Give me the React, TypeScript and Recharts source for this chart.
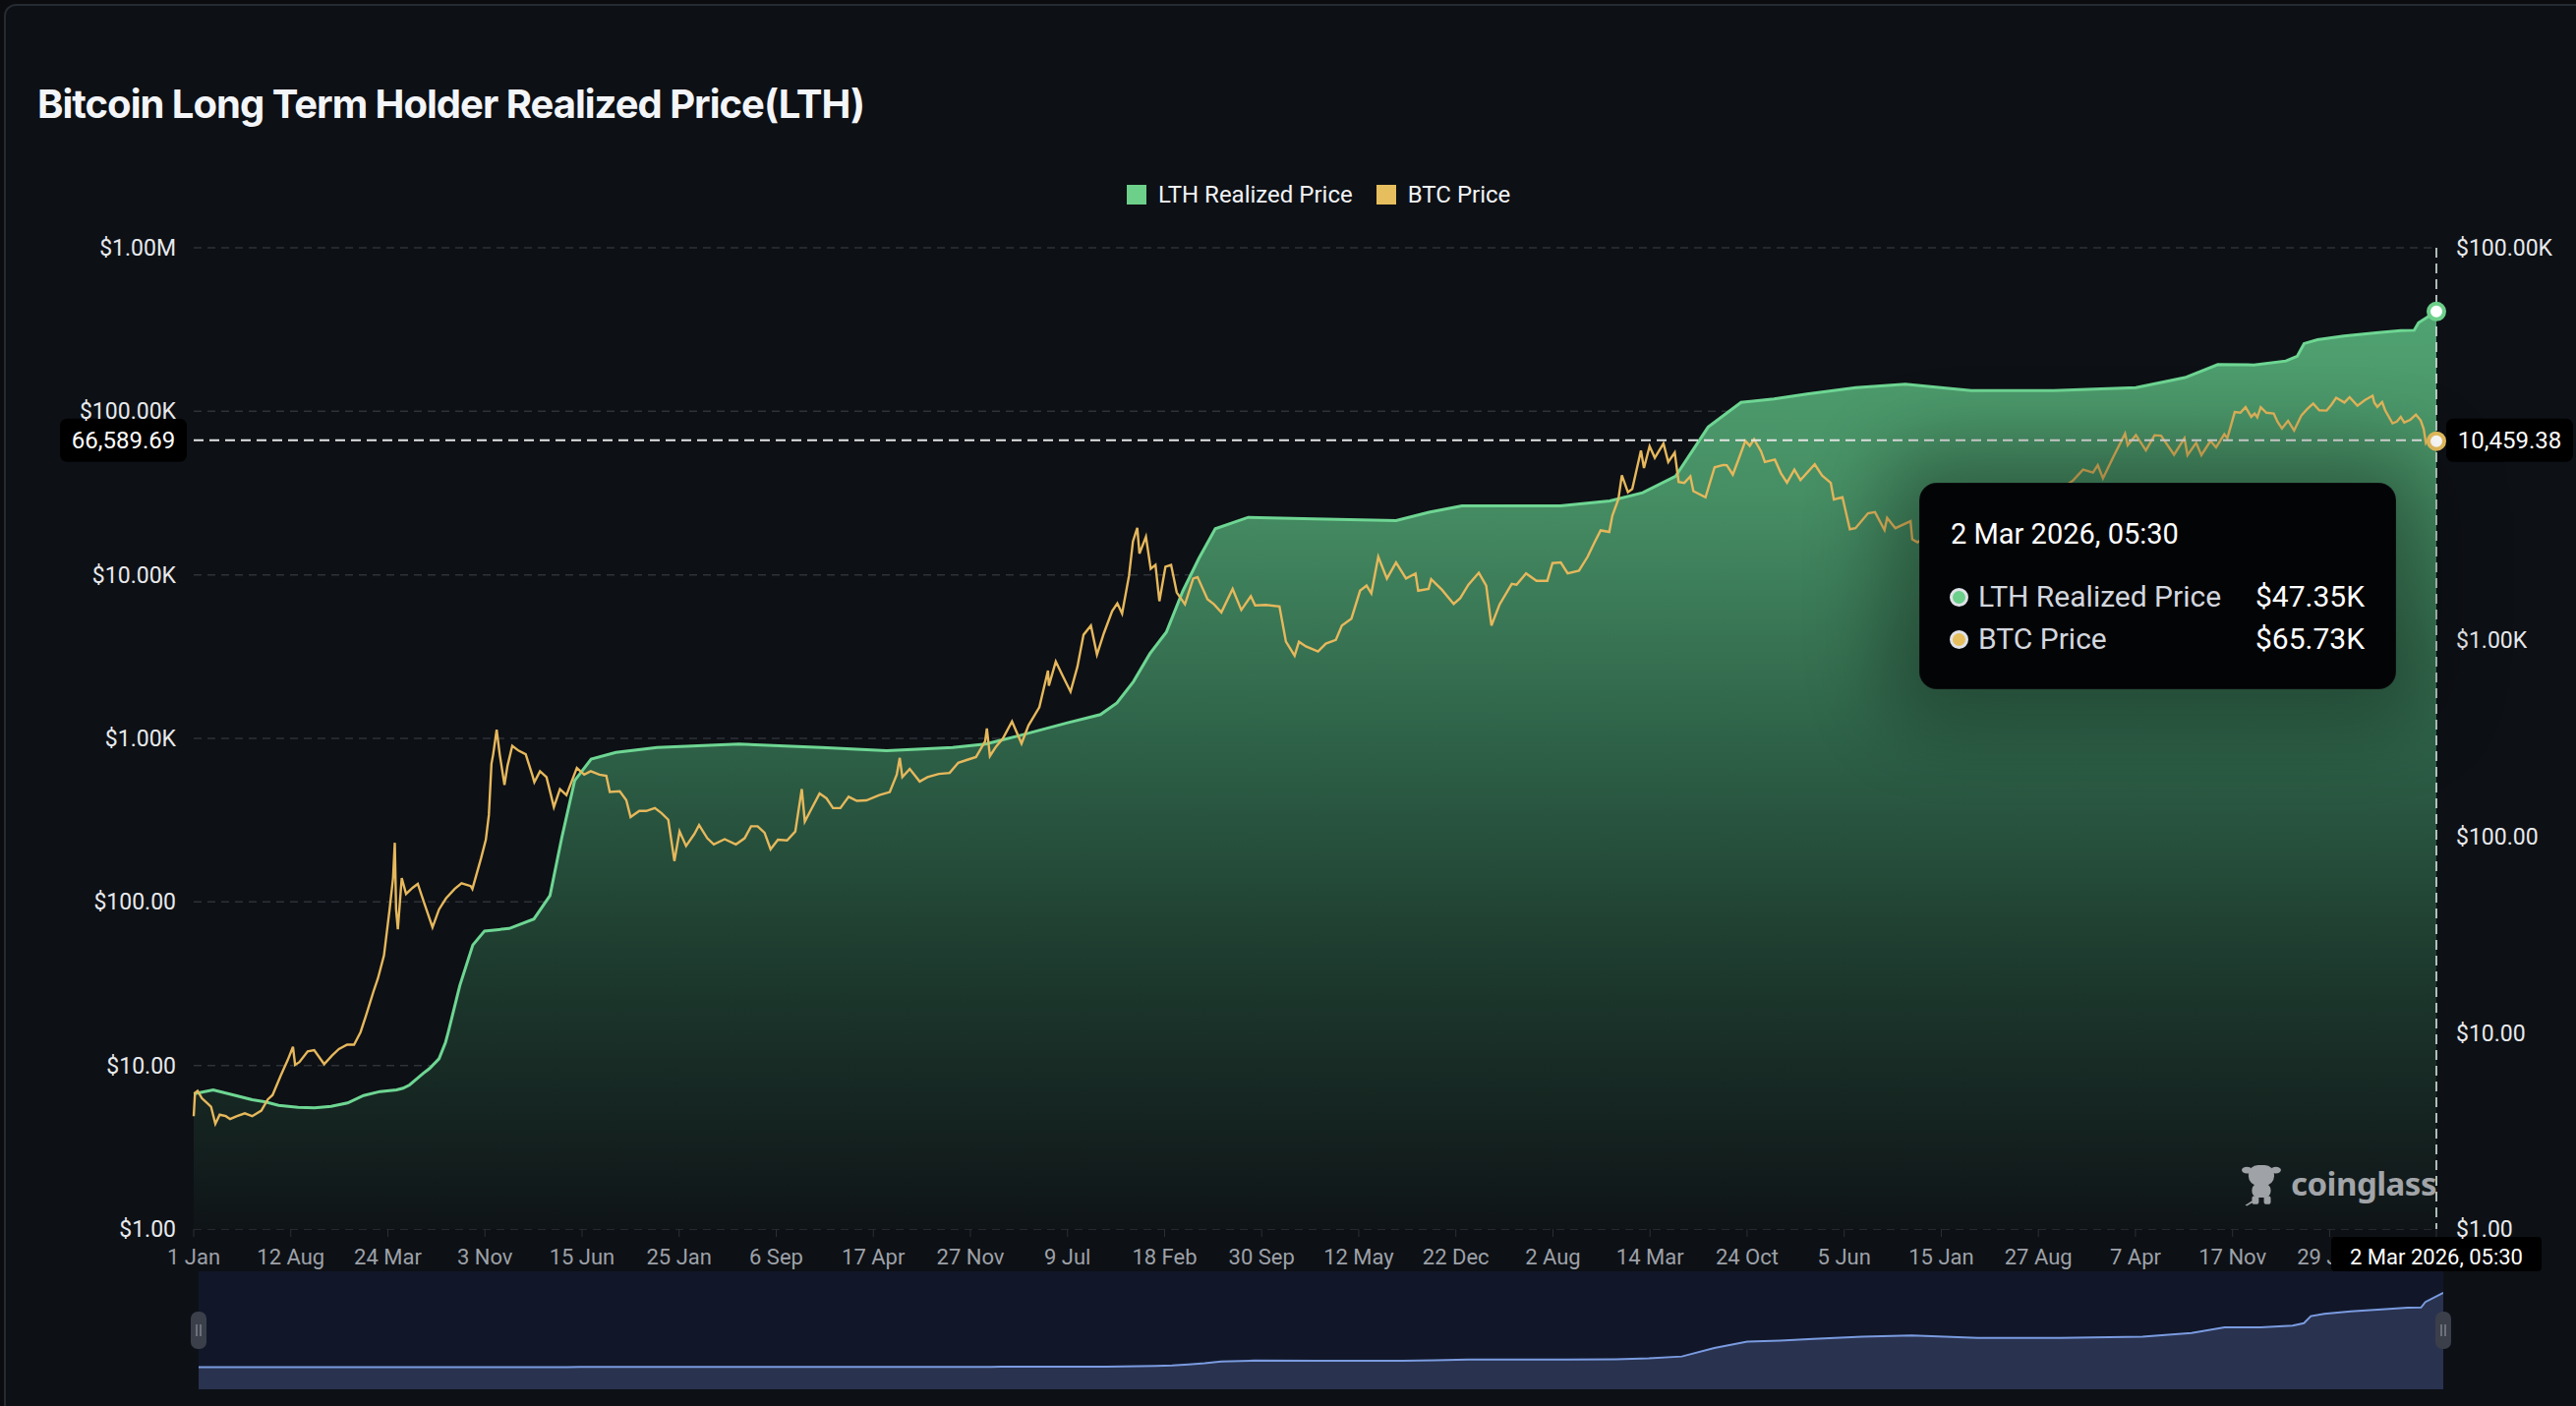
import React from 'react';
import {
  ComposedChart, AreaChart, Area, Line, XAxis, YAxis, CartesianGrid, Tooltip, Legend, ReferenceLine, Brush,
} from 'recharts';

// ---------------- data ----------------
const title = 'Bitcoin Long Term Holder Realized Price(LTH)';
const seriesNames = { lth: 'LTH Realized Price', btc: 'BTC Price' };

const lthSeries: [string, number][] = [
  ['2012-01-01', 4.89], ['2012-02-15', 5.12], ['2012-03-31', 4.83], ['2012-05-15', 4.56], ['2012-06-15', 4.44],
  ['2012-07-15', 4.27], ['2012-08-29', 4.17], ['2012-10-06', 4.14], ['2012-11-13', 4.22], ['2012-12-21', 4.39],
  ['2013-01-27', 4.79], ['2013-03-06', 5.02], ['2013-04-13', 5.12], ['2013-04-28', 5.22], ['2013-05-13', 5.42],
  ['2013-06-13', 6.2], ['2013-06-28', 6.57], ['2013-07-20', 7.37], ['2013-08-04', 8.93], ['2013-08-10', 10.0],
  ['2013-09-06', 17.4], ['2013-10-06', 28], ['2013-11-02', 33], ['2013-12-29', 34], ['2014-02-24', 38],
  ['2014-04-02', 50], ['2014-04-29', 98], ['2014-05-29', 193], ['2014-07-06', 248], ['2014-09-01', 268],
  ['2014-12-05', 284], ['2015-06-12', 296], ['2015-12-19', 284], ['2016-05-18', 274], ['2016-10-17', 284],
  ['2017-01-01', 296], ['2017-03-18', 326], ['2017-07-09', 380], ['2017-09-23', 418], ['2017-10-31', 479],
  ['2017-12-08', 615], ['2018-01-15', 854], ['2018-02-22', 1100], ['2018-04-01', 1780], ['2018-05-08', 2610],
  ['2018-06-15', 3700], ['2018-08-30', 4230], ['2019-01-29', 4150], ['2019-08-06', 4070], ['2019-10-21', 4490],
  ['2020-01-05', 4840], ['2020-08-19', 4840], ['2020-12-11', 5130], ['2021-02-25', 5650], ['2021-05-12', 6860],
  ['2021-07-26', 12200], ['2021-10-10', 16300], ['2021-12-25', 16950], ['2022-03-11', 17970], ['2022-07-02', 19400],
  ['2022-10-24', 20200], ['2023-03-25', 18700], ['2023-10-01', 18700], ['2024-04-08', 19400], ['2024-07-30', 21800],
  ['2024-10-14', 25400], ['2025-01-05', 25300], ['2025-03-20', 26500], ['2025-04-15', 28000], ['2025-05-01', 32500],
  ['2025-06-01', 34000], ['2025-08-01', 35500], ['2025-10-20', 37000], ['2025-12-10', 37800], ['2026-01-10', 38000],
  ['2026-01-20', 41500], ['2026-03-02T05:30', 47350],
];

const btcSeries: [string, number][] = [
  ['2012-01-01', 4.9], ['2012-01-04', 6.8], ['2012-01-10', 7.0], ['2012-01-20', 6.3], ['2012-02-01', 5.9],
  ['2012-02-10', 5.6], ['2012-02-20', 4.4], ['2012-03-01', 5.0], ['2012-03-15', 4.9], ['2012-03-25', 4.7],
  ['2012-04-10', 4.9], ['2012-04-28', 5.1], ['2012-05-15', 4.9], ['2012-06-05', 5.3], ['2012-06-20', 6.2],
  ['2012-07-01', 6.6], ['2012-07-20', 8.7], ['2012-08-05', 10.8], ['2012-08-17', 13.0], ['2012-08-22', 10.1],
  ['2012-09-01', 10.5], ['2012-09-20', 12.2], ['2012-10-05', 12.4], ['2012-10-28', 10.2], ['2012-11-15', 11.5],
  ['2012-12-01', 12.6], ['2012-12-20', 13.4], ['2013-01-05', 13.4], ['2013-01-20', 16], ['2013-02-01', 20],
  ['2013-02-20', 29], ['2013-03-01', 34], ['2013-03-15', 47], ['2013-03-28', 90], ['2013-04-05', 140],
  ['2013-04-09', 230], ['2013-04-12', 90], ['2013-04-16', 68], ['2013-04-25', 140], ['2013-05-05', 112],
  ['2013-05-20', 122], ['2013-06-01', 129], ['2013-06-15', 100], ['2013-07-05', 70], ['2013-07-20', 90],
  ['2013-08-05', 105], ['2013-08-25', 120], ['2013-09-10', 130], ['2013-10-01', 125], ['2013-10-05', 120],
  ['2013-10-25', 185], ['2013-11-05', 240], ['2013-11-12', 340], ['2013-11-18', 700], ['2013-11-22', 800],
  ['2013-11-30', 1130], ['2013-12-07', 800], ['2013-12-18', 520], ['2013-12-25', 680], ['2014-01-05', 900],
  ['2014-01-20', 840], ['2014-02-05', 800], ['2014-02-20', 600], ['2014-02-25', 540], ['2014-03-10', 630],
  ['2014-03-25', 580], ['2014-04-11', 380], ['2014-04-25', 490], ['2014-05-10', 450], ['2014-06-03', 660],
  ['2014-06-20', 600], ['2014-07-05', 630], ['2014-07-25', 600], ['2014-08-10', 590], ['2014-08-18', 470],
  ['2014-09-10', 475], ['2014-09-25', 420], ['2014-10-05', 330], ['2014-10-25', 360], ['2014-11-10', 360],
  ['2014-11-30', 375], ['2014-12-15', 350], ['2014-12-31', 318], ['2015-01-14', 178], ['2015-01-26', 270],
  ['2015-02-10', 220], ['2015-03-01', 260], ['2015-03-12', 295], ['2015-03-31', 245], ['2015-04-15', 225],
  ['2015-05-10', 242], ['2015-06-05', 225], ['2015-06-25', 245], ['2015-07-10', 290], ['2015-07-25', 290],
  ['2015-08-10', 265], ['2015-08-24', 210], ['2015-09-10', 240], ['2015-10-01', 238], ['2015-10-20', 270],
  ['2015-11-04', 490], ['2015-11-11', 310], ['2015-11-25', 365], ['2015-12-15', 460], ['2015-12-31', 430],
  ['2016-01-15', 375], ['2016-02-01', 375], ['2016-02-20', 440], ['2016-03-10', 415], ['2016-04-01', 418],
  ['2016-05-01', 450], ['2016-05-25', 470], ['2016-06-10', 600], ['2016-06-17', 760], ['2016-06-23', 580],
  ['2016-07-10', 650], ['2016-08-02', 545], ['2016-08-20', 580], ['2016-09-15', 607], ['2016-10-10', 615],
  ['2016-10-30', 710], ['2016-11-20', 740], ['2016-12-10', 770], ['2016-12-31', 960], ['2017-01-04', 1150],
  ['2017-01-11', 780], ['2017-01-25', 890], ['2017-02-10', 1000], ['2017-03-03', 1270], ['2017-03-25', 930],
  ['2017-04-10', 1200], ['2017-05-05', 1550], ['2017-05-25', 2600], ['2017-05-27', 2100], ['2017-06-12', 2950],
  ['2017-06-25', 2500], ['2017-07-16', 1930], ['2017-08-01', 2750], ['2017-08-15', 4300], ['2017-09-01', 4900],
  ['2017-09-15', 3250], ['2017-10-01', 4400], ['2017-10-20', 6000], ['2017-11-01', 6700], ['2017-11-12', 5800],
  ['2017-11-28', 9900], ['2017-12-07', 16000], ['2017-12-17', 19400], ['2017-12-22', 13500], ['2018-01-06', 17100],
  ['2018-01-17', 10900], ['2018-01-28', 11500], ['2018-02-06', 6900], ['2018-02-20', 11200], ['2018-03-05', 11500],
  ['2018-03-18', 7800], ['2018-04-06', 6600], ['2018-04-25', 9500], ['2018-05-05', 9700], ['2018-05-28', 7100],
  ['2018-06-12', 6600], ['2018-06-29', 5900], ['2018-07-25', 8200], ['2018-08-14', 6100], ['2018-09-05', 7400],
  ['2018-09-15', 6500], ['2018-10-10', 6550], ['2018-11-10', 6400], ['2018-11-20', 4600], ['2018-11-25', 3900],
  ['2018-12-15', 3200], ['2018-12-25', 3900], ['2019-01-10', 3650], ['2019-02-07', 3400], ['2019-02-25', 3800],
  ['2019-03-20', 4000], ['2019-04-03', 4900], ['2019-04-25', 5400], ['2019-05-15', 8000], ['2019-05-30', 8600],
  ['2019-06-10', 7700], ['2019-06-26', 12900], ['2019-07-16', 9500], ['2019-08-06', 11900], ['2019-08-29', 9500],
  ['2019-09-20', 10200], ['2019-09-26', 8000], ['2019-10-20', 8200], ['2019-10-26', 9400], ['2019-11-20', 8100],
  ['2019-12-17', 6640], ['2020-01-01', 7200], ['2020-01-20', 8700], ['2020-02-13', 10300], ['2020-03-01', 8600],
  ['2020-03-13', 4900], ['2020-04-01', 6600], ['2020-04-29', 8800], ['2020-05-10', 8700], ['2020-06-01', 10200],
  ['2020-06-25', 9200], ['2020-07-20', 9200], ['2020-08-01', 11800], ['2020-08-20', 11900], ['2020-09-05', 10200],
  ['2020-10-01', 10600], ['2020-10-21', 12900], ['2020-11-05', 15600], ['2020-11-20', 18700], ['2020-12-10', 18300],
  ['2020-12-17', 23000], ['2020-12-31', 29000], ['2021-01-08', 40600], ['2021-01-22', 32000], ['2021-02-01', 33500],
  ['2021-02-21', 57500], ['2021-02-28', 45000], ['2021-03-13', 61200], ['2021-03-25', 52000], ['2021-04-14', 63500],
  ['2021-04-25', 49000], ['2021-05-10', 56000], ['2021-05-19', 37000], ['2021-06-01', 36500], ['2021-06-15', 40000],
  ['2021-06-22', 32500], ['2021-07-20', 29800], ['2021-08-10', 45500], ['2021-08-30', 47000], ['2021-09-07', 46800],
  ['2021-09-21', 41000], ['2021-10-05', 51500], ['2021-10-20', 66000], ['2021-10-30', 61500], ['2021-11-09', 67500],
  ['2021-11-25', 57000], ['2021-12-04', 49000], ['2021-12-27', 50700], ['2022-01-10', 41800], ['2022-01-24', 36600],
  ['2022-02-10', 44000], ['2022-02-24', 38000], ['2022-03-29', 47400], ['2022-04-15', 40500], ['2022-05-05', 36500],
  ['2022-05-12', 28900], ['2022-06-01', 29800], ['2022-06-18', 19000], ['2022-07-01', 19300], ['2022-07-30', 23800],
  ['2022-08-15', 24200], ['2022-09-06', 18800], ['2022-09-12', 22300], ['2022-10-01', 19300], ['2022-11-05', 21300],
  ['2022-11-09', 16500], ['2022-11-21', 15800], ['2022-12-15', 17400], ['2022-12-31', 16550], ['2023-01-20', 22700],
  ['2023-02-15', 24300], ['2023-03-10', 20200], ['2023-03-25', 27500], ['2023-04-14', 30400], ['2023-05-12', 26300],
  ['2023-06-15', 25100], ['2023-06-25', 30500], ['2023-07-15', 30300], ['2023-08-15', 29200], ['2023-08-20', 26100],
  ['2023-09-11', 25100], ['2023-10-01', 27900], ['2023-10-25', 34500], ['2023-11-15', 37800], ['2023-12-08', 44000],
  ['2023-12-31', 42200], ['2024-01-11', 46800], ['2024-01-23', 38900], ['2024-02-15', 52000], ['2024-03-14', 73000],
  ['2024-03-20', 62000], ['2024-04-08', 71600], ['2024-05-01', 57700], ['2024-05-21', 71400], ['2024-06-05', 71000],
  ['2024-07-05', 54300], ['2024-07-29', 68500], ['2024-08-05', 54000], ['2024-08-25', 64200], ['2024-09-06', 53900],
  ['2024-09-27', 65800], ['2024-10-10', 60200], ['2024-10-29', 72400], ['2024-11-05', 68500], ['2024-11-22', 98900],
  ['2024-12-05', 98000], ['2024-12-17', 106000], ['2024-12-30', 92500], ['2025-01-07', 97000], ['2025-01-13', 92000],
  ['2025-01-21', 106000], ['2025-02-03', 98000], ['2025-02-20', 97000], ['2025-03-01', 86100], ['2025-03-11', 78500],
  ['2025-03-25', 87500], ['2025-04-08', 76300], ['2025-04-25', 94600], ['2025-05-08', 103000], ['2025-05-22', 111500],
  ['2025-06-05', 101500], ['2025-06-22', 101000], ['2025-07-03', 109500], ['2025-07-14', 121000], ['2025-08-02', 113200],
  ['2025-08-14', 122000], ['2025-09-01', 108200], ['2025-09-18', 117000], ['2025-10-06', 124500], ['2025-10-10', 113000],
  ['2025-10-17', 106500], ['2025-10-28', 114000], ['2025-11-04', 101500], ['2025-11-21', 84500], ['2025-12-01', 86500],
  ['2025-12-10', 92500], ['2025-12-18', 85500], ['2026-01-01', 88700], ['2026-01-14', 95500], ['2026-01-25', 88000],
  ['2026-02-01', 78000], ['2026-02-06', 64000], ['2026-02-12', 67500], ['2026-02-20', 68000], ['2026-02-25', 64500],
  ['2026-03-02T05:30', 65730],
];

const xTickDates = [
  '2012-01-01', '2012-08-12', '2013-03-24', '2013-11-03', '2014-06-15', '2015-01-25', '2015-09-06', '2016-04-17',
  '2016-11-27', '2017-07-09', '2018-02-18', '2018-09-30', '2019-05-12', '2019-12-22', '2020-08-02', '2021-03-14',
  '2021-10-24', '2022-06-05', '2023-01-15', '2023-08-27', '2024-04-07', '2024-11-17', '2025-06-29', '2026-03-02T05:30',
];
const leftTicks = [1, 10, 100, 1000, 10000, 100000, 1000000];
const rightTicks = [1, 10, 100, 1000, 10000, 100000];
const crosshair = { left: 66589.69, right: 10459.38 };
const navDomain = [-14000, 61000];

// ---------------- helpers ----------------
const FONT = 'Roboto, "Noto Sans", sans-serif';
const C = {
  bg: '#0d1015',
  grid: '#2e3239',
  lth: '#6ed693',
  btc: '#e6b85c',
  legendLth: '#6ccf8a',
  legendBtc: '#e6be5e',
  axisText: '#e7e9ec',
  xText: '#9da1a8',
};
const MONTHS = ['Jan', 'Feb', 'Mar', 'Apr', 'May', 'Jun', 'Jul', 'Aug', 'Sep', 'Oct', 'Nov', 'Dec'];
const toTs = (s: string) => Date.parse(s.length === 10 ? `${s}T00:00:00Z` : `${s}:00Z`);
const pad = (n: number) => String(n).padStart(2, '0');
const fmtShort = (t: number) => { const d = new Date(t); return `${d.getUTCDate()} ${MONTHS[d.getUTCMonth()]}`; };
const fmtFull = (t: number) => {
  const d = new Date(t);
  return `${d.getUTCDate()} ${MONTHS[d.getUTCMonth()]} ${d.getUTCFullYear()}, ${pad(d.getUTCHours())}:${pad(d.getUTCMinutes())}`;
};
const fmtAxis = (v: number) =>
  v >= 1e6 ? `$${(v / 1e6).toFixed(2)}M` : v >= 1e3 ? `$${(v / 1e3).toFixed(2)}K` : `$${v.toFixed(2)}`;
const fmtK = (v: number) => `$${(v / 1000).toFixed(2)}K`;
const fmtNum = (v: number) => v.toLocaleString('en-US', { minimumFractionDigits: 2, maximumFractionDigits: 2 });

type Row = { t: number; lth?: number; btc?: number };
const rowMap = new Map<number, Row>();
for (const [d, v] of lthSeries) { const t = toTs(d); const r = rowMap.get(t) ?? { t }; r.lth = v; rowMap.set(t, r); }
for (const [d, v] of btcSeries) { const t = toTs(d); const r = rowMap.get(t) ?? { t }; r.btc = v; rowMap.set(t, r); }
const rows: Row[] = Array.from(rowMap.values()).sort((a, b) => a.t - b.t);
const xTicks = xTickDates.map(toTs);
const startTs = xTicks[0];
const endTs = xTicks[xTicks.length - 1];

// ---------------- custom pieces ----------------
const XTick = (props: any) => {
  const { x, y, payload } = props;
  if (payload.value === endTs) {
    return (
      <g>
        <rect x={x - 107} y={y - 12} width={214} height={35} rx={4} fill="#000" />
        <text x={x} y={y} dy="0.71em" textAnchor="middle" fill="#fff" fontSize={22} fontFamily={FONT}>
          {fmtFull(payload.value)}
        </text>
      </g>
    );
  }
  return (
    <text x={x} y={y} dy="0.71em" textAnchor="middle" fill={C.xText} fontSize={22} fontFamily={FONT}>
      {fmtShort(payload.value)}
    </text>
  );
};

// right-axis tick: the one hidden under the crosshair value box is not drawn (as in the reference)
const RightTick = (props: any) => {
  const { x, y, payload } = props;
  if (Math.abs(Math.log10(payload.value) - Math.log10(crosshair.right)) < 0.1) return <g />;
  return (
    <text x={x} y={y} dy="0.355em" textAnchor="start" fill={C.axisText} fontSize={23} fontFamily={FONT}>
      {fmtAxis(payload.value)}
    </text>
  );
};

const CrossLabel = (props: any) => {
  const vb = props.viewBox || {};
  const y = vb.y ?? 0;
  const lx = (vb.x ?? 0) - 136;
  const rx = (vb.x ?? 0) + (vb.width ?? 0) + 10;
  return (
    <g>
      <rect x={lx} y={y - 22} width={129} height={44} rx={7} fill="#000" />
      <text x={lx + 64.5} y={y} dy="0.36em" textAnchor="middle" fill="#fff" fontSize={24} fontFamily={FONT}>
        {fmtNum(crosshair.left)}
      </text>
      <rect x={rx} y={y - 22} width={129} height={44} rx={7} fill="#000" />
      <text x={rx + 64.5} y={y} dy="0.36em" textAnchor="middle" fill="#fff" fontSize={24} fontFamily={FONT}>
        {fmtNum(crosshair.right)}
      </text>
    </g>
  );
};

const TooltipBox = (props: any) => {
  const { active, payload } = props;
  if (!active || !payload || !payload.length) return null;
  const row: Row = payload[0].payload;
  const items = [
    { name: seriesNames.lth, color: C.legendLth, value: row.lth },
    { name: seriesNames.btc, color: C.legendBtc, value: row.btc },
  ];
  return (
    <div
      style={{
        position: 'relative', width: 485, height: 210, background: '#030406', borderRadius: 18,
        boxShadow: '0 0 80px 36px rgba(0,0,0,0.32)', fontFamily: FONT, border: '1px solid rgba(255,255,255,0.04)',
        boxSizing: 'border-box',
      }}
    >
      <div style={{ position: 'absolute', left: 31, top: 37, fontSize: 29, lineHeight: '29px', color: '#fff', whiteSpace: 'nowrap' }}>
        {fmtFull(row.t)}
      </div>
      {items.map((it, i) => (
        <div
          key={it.name}
          style={{
            position: 'absolute', left: 30, right: 31, top: 100 + i * 43, height: 30,
            display: 'flex', alignItems: 'center',
          }}
        >
          <span
            style={{
              width: 19, height: 19, borderRadius: '50%', background: it.color, border: '3px solid #dfe3e8',
              boxSizing: 'border-box', marginRight: 10, flex: 'none',
            }}
          />
          <span style={{ fontSize: 30, lineHeight: '30px', color: '#d3d7de', flex: 1, whiteSpace: 'nowrap' }}>{it.name}</span>
          <span style={{ fontSize: 30, lineHeight: '30px', color: '#fff' }}>{it.value != null ? fmtK(it.value) : ''}</span>
        </div>
      ))}
    </div>
  );
};

const LegendBox = () => (
  <div style={{ display: 'flex', alignItems: 'center', height: 36, fontFamily: FONT, fontSize: 24, color: '#f1f3f5' }}>
    {[{ n: seriesNames.lth, c: C.legendLth }, { n: seriesNames.btc, c: C.legendBtc }].map((it, i) => (
      <div key={it.n} style={{ display: 'flex', alignItems: 'center', marginRight: i === 0 ? 24 : 0 }}>
        <span style={{ width: 20, height: 20, background: it.c, display: 'inline-block', marginRight: 12 }} />
        <span style={{ lineHeight: '36px', whiteSpace: 'nowrap' }}>{it.n}</span>
      </div>
    ))}
  </div>
);

const Traveller = (p: any) => {
  const left = p.x < 1000;
  const w = 16;
  const cx = left ? p.x : p.x + p.width;
  const cy = p.y + p.height / 2;
  return (
    <g>
      <rect x={cx - w / 2} y={cy - 19} width={w} height={38} rx={7} fill="#3a3f4a" />
      <line x1={cx - 2} x2={cx - 2} y1={cy - 6} y2={cy + 6} stroke="#8d929b" strokeWidth={1.2} />
      <line x1={cx + 2} x2={cx + 2} y1={cy - 6} y2={cy + 6} stroke="#8d929b" strokeWidth={1.2} />
    </g>
  );
};

const CowLogo = () => (
  <svg width={46} height={52} viewBox="0 0 46 52">
    <g fill="#9fa2a6">
      <ellipse cx={6} cy={10} rx={6} ry={4} />
      <ellipse cx={40} cy={10} rx={6} ry={4} />
      <rect x={8} y={4} width={30} height={24} rx={11} />
      <rect x={12} y={26} width={22} height={16} rx={7} />
      <rect x={12} y={40} width={8} height={10} rx={3} />
      <rect x={26} y={40} width={8} height={10} rx={3} />
      <path d="M12 46 L4 51 L6 52 L13 48 Z" />
    </g>
  </svg>
);

export default function App() {
  return (
    <div style={{ position: 'absolute', left: 0, top: 0, width: 2620, height: 1430, background: '#0a0c10', overflow: 'hidden' }}>
      <div
        style={{
          position: 'absolute', left: 4, top: 4, width: 2640, height: 1460, background: C.bg,
          border: '2px solid #262a31', borderRadius: 12, boxSizing: 'border-box',
        }}
      />
      <div
        style={{
          position: 'absolute', left: 38, top: 86, fontFamily: 'Inter, "Noto Sans", sans-serif', fontWeight: 700,
          fontSize: 40, lineHeight: '40px', color: '#f3f5f8', letterSpacing: -1.0, whiteSpace: 'nowrap',
        }}
      >
        {title}
      </div>
      {/* navigator panorama (drawn under the main chart's Brush handles) */}
      <div style={{ position: 'absolute', left: 202, top: 1293, width: 2283, height: 120, background: '#111729' }}>
        <AreaChart width={2283} height={120} data={rows} margin={{ top: 0, right: 0, bottom: 0, left: 0 }}>
          <XAxis hide dataKey="t" type="number" domain={[startTs, endTs]} />
          <YAxis hide domain={navDomain} />
          <Area
            type="linear" dataKey="lth" stroke="#7a9be0" strokeWidth={2} fill="#29324f" fillOpacity={1}
            connectNulls dot={false} activeDot={false} baseValue="dataMin" isAnimationActive={false}
          />
        </AreaChart>
      </div>
      <div style={{ position: 'absolute', left: 0, top: 0 }}>
        <ComposedChart width={2620} height={1430} data={rows} margin={{ top: 252, right: 0, bottom: 20, left: 0 }}>
          <defs>
            <linearGradient id="lthFill" gradientUnits="userSpaceOnUse" x1={0} y1={252} x2={0} y2={1250}>
              <stop offset="0" stopColor="rgb(84,170,118)" />
              <stop offset="0.25" stopColor="rgb(70,142,100)" />
              <stop offset="0.5" stopColor="rgb(46,98,72)" />
              <stop offset="0.75" stopColor="rgb(28,55,44)" />
              <stop offset="1" stopColor="rgb(15,20,23)" />
            </linearGradient>
          </defs>
          <CartesianGrid yAxisId="left" vertical={false} stroke={C.grid} strokeDasharray="8 6" strokeWidth={1.5} />
          <XAxis
            dataKey="t" type="number" domain={[startTs, endTs]} ticks={xTicks} interval={0}
            height={40} tickSize={8} tickMargin={12} axisLine={false} tickLine={{ stroke: '#2c3037' }} tick={<XTick />}
          />
          <YAxis
            yAxisId="left" orientation="left" scale="log" domain={[1, 1000000]} ticks={leftTicks}
            width={197} axisLine={false} tickLine={false} tickSize={0} tickMargin={18} tickFormatter={fmtAxis}
            tick={{ fill: C.axisText, fontSize: 23, fontFamily: FONT }}
          />
          <YAxis
            yAxisId="right" orientation="right" scale="log" domain={[1, 100000]} ticks={rightTicks}
            width={142} axisLine={false} tickLine={false} tickSize={0} tickMargin={20} tick={<RightTick />}
          />
          <Legend
            verticalAlign="middle" layout="horizontal" align="center"
            wrapperStyle={{ top: 180, left: 1146, width: 430, height: 36 }}
            content={() => <LegendBox />}
          />
          <Area
            yAxisId="right" type="linear" dataKey="lth" name={seriesNames.lth} stroke={C.lth} strokeWidth={3}
            fill="url(#lthFill)" fillOpacity={1} connectNulls baseValue="dataMin" dot={false}
            activeDot={{ r: 8, fill: '#fff', stroke: C.legendLth, strokeWidth: 4 }} isAnimationActive={false}
          />
          <Line
            yAxisId="left" type="linear" dataKey="btc" name={seriesNames.btc} stroke={C.btc} strokeWidth={2.4}
            connectNulls dot={false} activeDot={{ r: 8, fill: '#fff', stroke: C.legendBtc, strokeWidth: 4 }}
            isAnimationActive={false}
          />
          <ReferenceLine
            yAxisId="left" y={crosshair.left} stroke="#e4e4e4" strokeWidth={2} strokeDasharray="10 6"
            ifOverflow="visible" label={<CrossLabel />}
          />
          <Tooltip
            defaultIndex={rows.length - 1} active position={{ x: 1952, y: 491 }} isAnimationActive={false}
            allowEscapeViewBox={{ x: true, y: true }} wrapperStyle={{ outline: 'none' }}
            cursor={{ stroke: 'rgba(215,230,222,0.8)', strokeWidth: 2, strokeDasharray: '10 6' }}
            content={<TooltipBox />}
          />
          <Brush
            dataKey="t" x={202} y={1293} width={2283} height={120} travellerWidth={14} fill="transparent"
            stroke="transparent" traveller={<Traveller />} tickFormatter={() => ''}
          />
        </ComposedChart>
      </div>
      <div
        style={{
          position: 'absolute', left: 2280, top: 1176, width: 198, height: 56, overflow: 'hidden',
          display: 'flex', alignItems: 'center', pointerEvents: 'none',
        }}
      >
        <CowLogo />
        <span
          style={{
            marginLeft: 10, fontFamily: '"Noto Sans", sans-serif', fontWeight: 700, fontSize: 33,
            color: '#a1a4a8', letterSpacing: -0.5, whiteSpace: 'nowrap', lineHeight: '56px',
          }}
        >
          coinglass
        </span>
      </div>
    </div>
  );
}
